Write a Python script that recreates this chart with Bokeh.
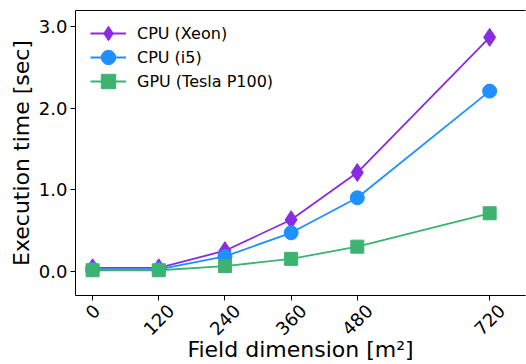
import math
from bokeh.plotting import figure
from bokeh.models import (Range1d, FixedTicker, PrintfTickFormatter, Legend,
                          LegendItem, LinearAxis, CustomJSTickFormatter)
from bokeh.embed import file_html
from bokeh.resources import INLINE

# ---- data ----
field_dim = [0, 120, 240, 360, 480, 720]
x_ticks = [0, 120, 240, 360, 480, 720]
x_tick_labels = ["0", "120", "240", "360", "480", "720"]
y_ticks = [0.0, 1.0, 2.0, 3.0]
cpu_xeon = [0.04, 0.04, 0.25, 0.63, 1.21, 2.87]
cpu_i5 = [0.02, 0.02, 0.18, 0.47, 0.90, 2.21]
gpu_p100 = [0.01, 0.01, 0.06, 0.15, 0.30, 0.71]
series_names = ["CPU (Xeon)", "CPU (i5)", "GPU (Tesla P100)"]
x_label = "Field dimension [m²]"
y_label = "Execution time [sec]"

FONT = "DejaVu Sans"
C_XEON = "#8A2BE2"
C_I5 = "#1E90FF"
C_GPU = "#3CB371"
TICK_FS = 18
LW = 1.8

W, H = 526, 364
BL, BR, BT, BB = 75, 1, 10, 69
FW, FH = W - BL - BR, H - BT - BB
X0, X1 = -31, 785

p = figure(width=W, height=H, output_backend="svg", toolbar_location=None,
           x_range=Range1d(X0, X1), y_range=Range1d(-0.3, 3.2),
           min_border_left=BL, min_border_right=BR, min_border_top=BT,
           min_border_bottom=BB)
p.outline_line_color = None
p.grid.visible = False
p.background_fill_color = "white"

l1 = p.line(field_dim, cpu_xeon, line_color=C_XEON, line_width=LW)
s1 = p.scatter(field_dim, cpu_xeon, marker="diamond", size=18, fill_color=C_XEON, line_color=C_XEON)
l2 = p.line(field_dim, cpu_i5, line_color=C_I5, line_width=LW)
s2 = p.scatter(field_dim, cpu_i5, marker="circle", size=14, fill_color=C_I5, line_color=C_I5)
l3 = p.line(field_dim, gpu_p100, line_color=C_GPU, line_width=LW)
s3 = p.scatter(field_dim, gpu_p100, marker="square", size=13, fill_color=C_GPU, line_color=C_GPU)

for ax in (p.xaxis[0], p.yaxis[0]):
    ax.axis_line_color = "black"
    ax.major_tick_line_color = "black"
    ax.major_tick_out = 5
    ax.major_tick_in = 0
    ax.minor_tick_line_color = None
    ax.major_label_text_font = FONT
    ax.major_label_text_font_size = f"{TICK_FS}px"
    ax.major_label_text_color = "black"
    ax.axis_label_text_font = FONT
    ax.axis_label_text_font_size = "22px"
    ax.axis_label_text_font_style = "normal"
    ax.axis_label_text_color = "black"

# x axis: spine + tick marks only
p.xaxis[0].ticker = FixedTicker(ticks=x_ticks)
p.xaxis[0].major_label_overrides = {t: "" for t in x_ticks}
p.xaxis[0].major_label_text_font_size = "0px"
p.xaxis[0].major_label_standoff = 0

# second x axis carrying the rotated labels: each label is nudged right so
# that its rotated box is centred under its tick (matplotlib style)
ppu = FW / (X1 - X0)
label_ticks = [t + 0.354 * len(s) * 0.636 * TICK_FS / ppu
               for t, s in zip(x_ticks, x_tick_labels)]
xlab = LinearAxis(ticker=FixedTicker(ticks=label_ticks),
                  formatter=CustomJSTickFormatter(args=dict(labels=x_tick_labels),
                                                  code="return labels[index]"),
                  axis_line_color=None, major_tick_line_color=None,
                  minor_tick_line_color=None, major_tick_out=0, major_tick_in=0,
                  major_label_orientation=math.pi / 4, major_label_standoff=7,
                  major_label_text_font=FONT,
                  major_label_text_font_size=f"{TICK_FS}px",
                  major_label_text_color="black",
                  axis_label=x_label, axis_label_standoff=-7,
                  axis_label_text_font=FONT, axis_label_text_font_size="22px",
                  axis_label_text_font_style="normal",
                  axis_label_text_color="black")
p.add_layout(xlab, "below")

p.yaxis[0].ticker = FixedTicker(ticks=y_ticks)
p.yaxis[0].formatter = PrintfTickFormatter(format="%.1f")
p.yaxis[0].axis_label = y_label
p.yaxis[0].major_label_standoff = 3
p.yaxis[0].axis_label_standoff = 2

# top spine (no ticks, no labels)
top = LinearAxis(ticker=FixedTicker(ticks=[]), axis_line_color="black",
                 major_tick_line_color=None, minor_tick_line_color=None,
                 major_tick_out=0, major_tick_in=0, major_label_standoff=0,
                 major_label_text_font_size="0px")
p.add_layout(top, "above")

# legend: one single-row legend per series so the rows can sit 24px apart
renderers = [[l1, s1], [l2, s2], [l3, s3]]
row_center_from_top = [23, 47, 71]
for name, rs, rc in zip(series_names, renderers, row_center_from_top):
    lg = Legend(items=[LegendItem(label=name, renderers=rs)],
                location=(15, FH - rc - 20), glyph_width=36, glyph_height=40,
                padding=0, margin=0, label_standoff=11, label_text_font=FONT,
                label_text_font_size="16px", label_text_color="black",
                border_line_color=None, background_fill_alpha=0)
    p.add_layout(lg)

open("out.html", "w").write(file_html(p, INLINE))
